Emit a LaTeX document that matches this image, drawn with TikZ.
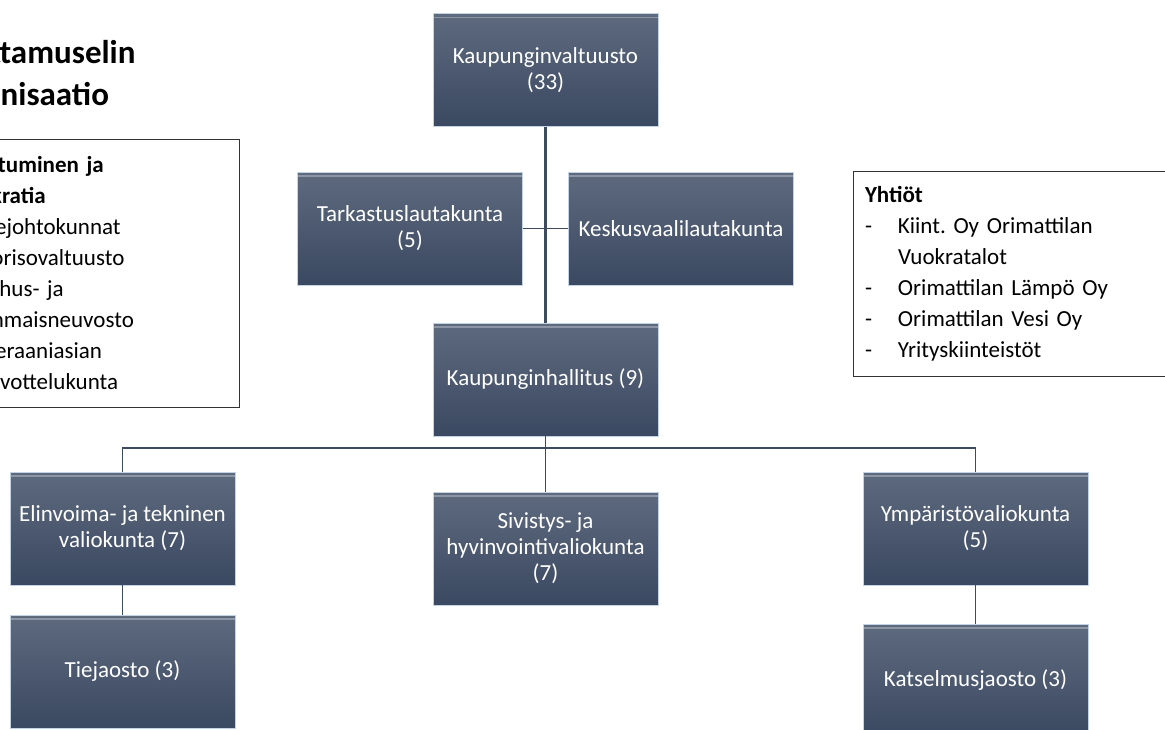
\documentclass[tikz,border=0pt]{standalone}
\usepackage{fontspec}
\setmainfont{Carlito}
\usepackage{tikz}
\usetikzlibrary{calc}
\definecolor{boxtop}{RGB}{94,106,126}
\definecolor{boxbot}{RGB}{58,72,97}
\definecolor{boxedge}{RGB}{196,210,230}
\definecolor{linkcol}{RGB}{62,74,94}
\newlength\itmw
\def\boxfont{\fontsize{23}{26}\selectfont}
\def\listfont{\fontsize{23}{31}\selectfont\frenchspacing}
\def\itm#1{\makebox[\itmw][l]{-}#1}
\def\cnt#1{\hspace*{\itmw}#1}

\begin{document}
\begin{tikzpicture}[x=1pt,y=-1pt,
		orgbox/.style={rectangle, minimum width=225pt, minimum height=113pt, inner sep=2pt,
			top color=boxtop, bottom color=boxbot, draw=boxedge, line width=0.8pt,
			text=white, align=center, font=\boxfont,
			path picture={\draw[white, opacity=0.3, line width=1.5pt]
				([yshift=-4pt]path picture bounding box.north west) -- ([yshift=-4pt]path picture bounding box.north east);}},
		listbox/.style={rectangle, draw=black!80, line width=0.9pt, align=left,
			inner xsep=12pt, inner ysep=0pt, anchor=center},
		link/.style={draw=linkcol, line width=1.8pt},
		mainlink/.style={draw=linkcol, line width=3pt}]
				\useasboundingbox (0,0) rectangle (1165,729);
				\clip (0,0) rectangle (1165,729);
				
				% otsikko
				\node[anchor=north west, inner sep=0pt, align=left, font=\fontsize{33}{42}\selectfont\bfseries] (title) at (-60,40) {Luottamuselin\\organisaatio};
				
				% laatikot
				\node[listbox, text width=291pt, minimum height=268pt, font=\listfont\setlength\itmw{28.5pt}] (osal) at (81.5,273) {\textbf{Osallistuminen ja}\\\textbf{demokratia}\\\itm{Aluejohtokunnat}\\\itm{Nuorisovaltuusto}\\\itm{Vanhus- ja}\\\cnt{vammaisneuvosto}\\\itm{Veteraaniasian}\\\cnt{neuvottelukunta}};
				\node[listbox, text width=299pt, minimum height=205pt, font=\listfont\setlength\itmw{33pt}] (yht) at (1014.5,273.5) {\textbf{Yhtiöt}\\\itm{Kiint. Oy Orimattilan}\\\cnt{Vuokratalot}\\\itm{Orimattilan Lämpö Oy}\\\itm{Orimattilan Vesi Oy}\\\itm{Yrityskiinteistöt}};
				
				\node[orgbox] (kv) at (545.5,70) {Kaupunginvaltuusto\\(33)};
				\node[orgbox] (tark) at (410,228.5) {Tarkastuslautakunta\\(5)};
				\node[orgbox] (kesk) at (681,228.5) {Keskusvaalilautakunta};
				\node[orgbox] (kh) at (545.5,379.5) {Kaupunginhallitus (9)};
				
				\node[orgbox] (elin) at (122.5,528.5) {Elinvoima- ja tekninen\\valiokunta (7)};
				\node[orgbox] (siv) at (545.5,548.5) {Sivistys- ja\\hyvinvointivaliokunta\\(7)};
				\node[orgbox] (ymp) at (975.5,528.5) {Ympäristövaliokunta\\(5)};
				
				\node[orgbox] (tie) at (122.5,671.5) {Tiejaosto (3)};
				\node[orgbox] (kats) at (975.5,680.5) {Katselmusjaosto (3)};
				
				% viivat
				\coordinate (bus) at (545.5,448);
				\draw[mainlink] (kv) -- (kh);
				\draw[link] (tark) -- (kesk);
				\draw[link] (kh) -- (siv);
				\draw[link] (elin.north) |- (bus) -| (ymp.north);
				\draw[link] (elin) -- (tie);
				\draw[link] (ymp) -- (kats);
			\end{tikzpicture}
\end{document}
